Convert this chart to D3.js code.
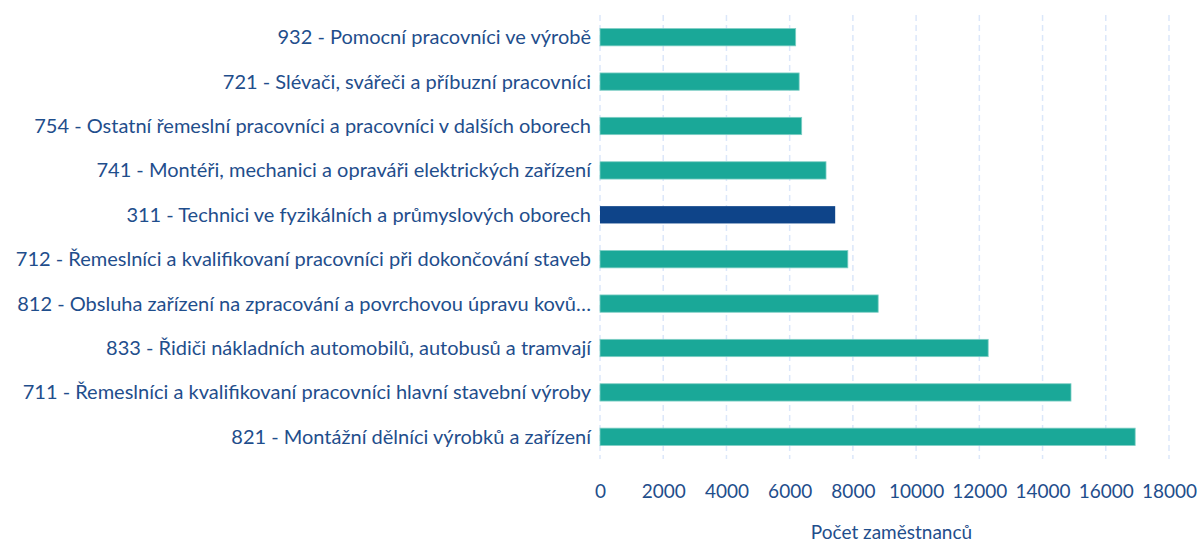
<!DOCTYPE html>
<html>
<head>
<meta charset="utf-8">
<script src="https://cdn.jsdelivr.net/npm/d3@7"></script>
<style>
  body { margin: 0; background: #fff; }
  svg { font-family: Lato, 'Noto Sans', sans-serif; }
</style>
</head>
<body>
<svg id="chart" width="1197" height="545"></svg>
<script>
const occupations = [
  '932 - Pomocní pracovníci ve výrobě',
  '721 - Slévači, svářeči a příbuzní pracovníci',
  '754 - Ostatní řemeslní pracovníci a pracovníci v dalších oborech',
  '741 - Montéři, mechanici a opraváři elektrických zařízení',
  '311 - Technici ve fyzikálních a průmyslových oborech',
  '712 - Řemeslníci a kvalifikovaní pracovníci při dokončování staveb',
  '812 - Obsluha zařízení na zpracování a povrchovou úpravu kovů…',
  '833 - Řidiči nákladních automobilů, autobusů a tramvají',
  '711 - Řemeslníci a kvalifikovaní pracovníci hlavní stavební výroby',
  '821 - Montážní dělníci výrobků a zařízení'
]
const employees = [6190, 6300, 6380, 7150, 7440, 7840, 8800, 12280, 14900, 16930]
const highlighted = ['311 - Technici ve fyzikálních a průmyslových oborech']
const xTicks = [0, 2000, 4000, 6000, 8000, 10000, 12000, 14000, 16000, 18000]
const xTitle = 'Počet zaměstnanců'

const svg = d3.select('#chart')
const margin = {top: 15, right: 28, bottom: 86, left: 600}
const width = 1197, height = 545

const x = d3.scaleLinear().domain([0, 18000]).range([margin.left, width - margin.right])
const y = d3.scaleBand().domain(occupations).range([margin.top, height - margin.bottom]).paddingInner(0.61).paddingOuter(0.305)

const textColor = '#1f4e8c'

// grid
svg.append('g').selectAll('line').data(xTicks).enter().append('line')
  .attr('x1', d => x(d)).attr('x2', d => x(d))
  .attr('y1', margin.top).attr('y2', height - margin.bottom)
  .attr('stroke', '#dbe7fa').attr('stroke-width', 1.5).attr('stroke-dasharray', '6,4')

// bars
svg.append('g').selectAll('rect').data(occupations).enter().append('rect')
  .attr('x', x(0))
  .attr('y', d => y(d))
  .attr('width', (d, i) => x(employees[i]) - x(0))
  .attr('height', y.bandwidth())
  .attr('fill', d => highlighted.includes(d) ? '#0e4489' : '#1aa898')
  .attr('stroke', d => highlighted.includes(d) ? 'none' : '#7fcfc5')
  .attr('stroke-width', 0.8)

// category labels
svg.append('g').selectAll('text').data(occupations).enter().append('text')
  .attr('x', 591)
  .attr('y', d => y(d) + y.bandwidth() / 2)
  .attr('dy', '0.35em')
  .attr('text-anchor', 'end')
  .attr('fill', textColor)
  .attr('font-size', 20)
  .text(d => d)

// x axis
const xAxis = d3.axisBottom(x).tickValues(xTicks).tickFormat(d3.format('d')).tickSize(0).tickPadding(0)
const ax = svg.append('g').attr('transform', `translate(0, ${height - margin.bottom + 25})`).call(xAxis)
ax.select('.domain').remove()
ax.selectAll('text').attr('fill', textColor).attr('font-size', 19).attr('font-family', 'Lato, sans-serif')

svg.append('text')
  .attr('x', (x(0) + x(18000)) / 2 + 7)
  .attr('y', 539)
  .attr('text-anchor', 'middle')
  .attr('fill', textColor)
  .attr('font-size', 19)
  .text(xTitle)
</script>
</body>
</html>
